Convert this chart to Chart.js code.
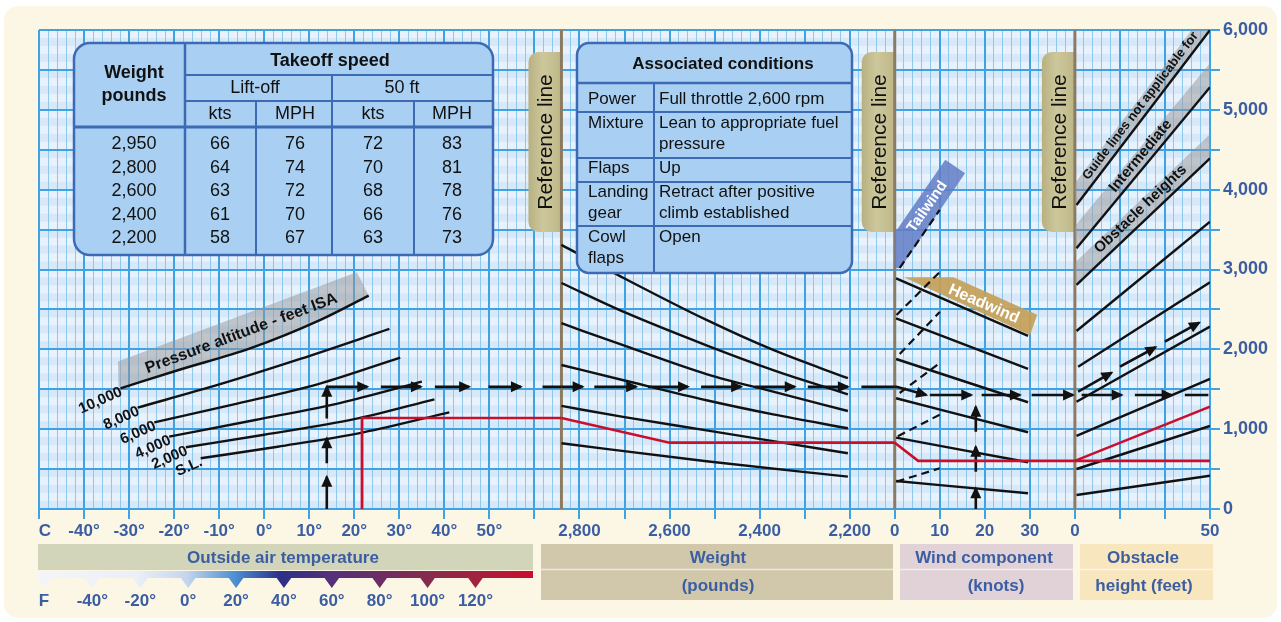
<!DOCTYPE html>
<html>
<head>
<meta charset="utf-8">
<script src="https://cdn.jsdelivr.net/npm/chart.js@4.4.1/dist/chart.umd.min.js"></script>
<style>
html, body { margin: 0; background: #fff; }
#wrap { position: relative; width: 1281px; height: 622px; }
</style>
</head>
<body>
<div id="wrap"><canvas id="c"></canvas></div>
<script>
// takeoff speed table
const speedWeights = [2950, 2800, 2600, 2400, 2200];
const liftOffKts = [66, 64, 63, 61, 58];
const liftOffMph = [76, 74, 72, 70, 67];
const fiftyFtKts = [72, 70, 68, 66, 63];
const fiftyFtMph = [83, 81, 78, 76, 73];

// associated conditions
const conditionNames = [['Power'], ['Mixture'], ['Flaps'], ['Landing', 'gear'], ['Cowl', 'flaps']];
const conditionValues = [['Full throttle 2,600 rpm'], ['Lean to appropriate fuel', 'pressure'], ['Up'], ['Retract after positive', 'climb established'], ['Open']];

// axis ticks
const tempTicks = [-40, -30, -20, -10, 0, 10, 20, 30, 40, 50];
const fahrenheitTicks = [-40, -20, 0, 20, 40, 60, 80, 100, 120];
const fahrenheitMarks = [-60, -40, -20, 0, 20, 40, 60, 80, 100, 120];
const weightTicks = [2800, 2600, 2400, 2200];
const windTicks = [0, 10, 20, 30];
const obstacleTicks = [0, 50];

// pressure altitude curves: [OAT C, distance ft]
const altitudeLabels = ['10,000', '8,000', '6,000', '4,000', '2,000', 'S.L.'];
const alt10000 = [[-31.9, 1512], [-19, 1741], [-3, 2015], [12.5, 2370], [23.2, 2673]];
const alt8000 = [[-28.1, 1270], [-10, 1560], [8, 1880], [27.8, 2255]];
const alt6000 = [[-24.4, 1086], [-6, 1320], [12, 1565], [30.2, 1896]];
const alt4000 = [[-21.1, 906], [-2, 1115], [17, 1330], [35, 1595]];
const alt2000 = [[-17.4, 773], [0, 930], [20, 1125], [37.8, 1374]];
const altSL = [[-14.1, 635], [3, 780], [22, 960], [41.1, 1211]];

// weight guide lines: [lbs, ft]
const weightLine1 = [[2840, 3308], [2715, 2932], [2518, 2368], [2370, 1992], [2204, 1638]];
const weightLine2 = [[2840, 2831], [2700, 2465], [2518, 2050], [2370, 1740], [2204, 1437]];
const weightLine3 = [[2840, 2327], [2700, 2045], [2518, 1690], [2370, 1470], [2204, 1228]];
const weightLine4 = [[2840, 1804], [2700, 1610], [2518, 1362], [2370, 1185], [2204, 1011]];
const weightLine5 = [[2840, 1291], [2700, 1150], [2518, 985], [2370, 850], [2204, 698]];
const weightLine6 = [[2840, 823], [2518, 598], [2204, 405]];

// wind guide lines: [knots, ft]
const headwind1 = [[0.3, 2890], [29.6, 2168]];
const headwind2 = [[0.3, 2389], [29.6, 1754]];
const headwind3 = [[0.3, 1879], [29.6, 1337]];
const headwind4 = [[0.3, 1387], [29.6, 961]];
const headwind5 = [[0.3, 894], [29.6, 585]];
const headwind6 = [[0.3, 351], [29.6, 197]];
const tailwind1 = [[1.1, 3020], [10, 3747]];
const tailwind2 = [[0.4, 2430], [10, 2969]];
const tailwind3 = [[1.1, 1942], [10, 2468]];
const tailwind4 = [[1.1, 1453], [10, 1829]];
const tailwind5 = [[0.7, 911], [10, 1182]];
const tailwind6 = [[0.4, 343], [10, 510]];

// obstacle guide lines: [ft obstacle, ft distance]
const obstacleA = [[0.6, 3808], [50, 6000]];
const obstacleB = [[0.6, 3266], [50, 5283]];
const obstacleC = [[0.6, 2806], [50, 4393]];
const obstacleD = [[0.6, 2230], [50, 3599]];
const obstacleE = [[1.2, 1783], [50, 2840]];
const obstacleF = [[0.6, 1344], [50, 2284]];
const obstacleG = [[0.6, 915], [50, 1629]];
const obstacleH = [[0.6, 501], [50, 1040]];
const obstacleI = [[0.6, 175], [50, 417]];
const obstacleNotes = ['Guide lines not applicable for', 'Intermediate', 'Obstacle heights'];

// worked example (black arrows); a third value of 1 marks an arrowhead
const pathTemp = [
  [[13.9, 0], [13.9, 405, 1]], [[13.9, 573], [13.9, 885, 1]], [[13.9, 1135], [13.9, 1530, 1]],
  [[13.9, 1530], [22.9, 1530, 1]], [[25.9, 1530], [34.8, 1530, 1]], [[37.9, 1530], [45.5, 1530, 1]],
  [[49.8, 1530], [57, 1530, 1]], [[61.8, 1530], [66, 1530]]
];
const pathWeight = [
  [[2840, 1530], [2793, 1530, 1]], [[2767, 1530], [2674, 1530, 1]], [[2648, 1530], [2559, 1530, 1]],
  [[2530, 1530], [2441, 1530, 1]], [[2411, 1530], [2322, 1530, 1]], [[2293, 1530], [2204, 1530, 1]],
  [[2174, 1530], [2100, 1530]]
];
const pathWind = [
  [[0, 1530], [0.4, 1530], [7, 1428, 1]], [[7.8, 1428], [17, 1428, 1]], [[19.3, 1428], [27.8, 1428, 1]],
  [[30.4, 1428], [39.6, 1428, 1]],
  [[18, 0], [18, 259, 1]], [[18, 467], [18, 781, 1]], [[18, 969], [18, 1282, 1]]
];
const pathObstacle = [
  [[2.5, 1428], [17.3, 1428, 1]], [[22.2, 1428], [35.8, 1428, 1]], [[40.7, 1428], [49.4, 1428]],
  [[1.2, 1470], [13.6, 1708, 1]], [[16.7, 1783], [29.9, 2026, 1]], [[33.3, 2096], [46, 2334, 1]]
];

// worked example (red)
const redTemp = [[21.7, 0], [21.7, 1140], [66, 1140]];
const redWeight = [[2840, 1140], [2600, 831], [2100, 831]];
const redWind = [[0, 831], [5.2, 603], [40, 603]];
const redObstacleFlat = [[0, 603], [50, 603]];
const redObstacleRise = [[0, 603], [50, 1282]];

// reference line positions in each panel's own units
const refWeight = 2840, refWind = 0, refObstacle = 0;

const FONT = '"Liberation Sans", Arial, Helvetica, sans-serif';
const C = {
  blueText: '#3B5EA2', grid: '#3FA2E2', minor: '#8FC8EE', plot: '#D7E8F8', stripe: '#E8F2FC',
  ink: '#111', red: '#C8102E', ref: '#8C7B62', table: '#A9D0F2', tableLine: '#3D6AB5', cream: '#FCF6E4'
};

function lineSet(axis, pts, o) {
  return Object.assign({
    xAxisID: axis, yAxisID: 'y', data: pts.map(p => ({x: p[0], y: p[1]})),
    borderColor: C.ink, borderWidth: 2.4, pointRadius: 0, fill: false,
    cubicInterpolationMode: 'monotone'
  }, o || {});
}

function pathSet(axis, lines) {
  const data = [], heads = [];
  lines.forEach(pl => {
    pl.forEach((p, i) => {
      data.push({x: p[0], y: p[1]});
      if (i === pl.length - 1 && p[2]) heads.push(data.length - 1);
    });
    data.push({x: pl[pl.length - 1][0], y: null});
  });
  return {xAxisID: axis, yAxisID: 'y', data, heads, borderColor: C.ink, borderWidth: 2.6,
    pointRadius: 0, spanGaps: false, fill: false};
}

const red = {borderColor: C.red, borderWidth: 2.6, cubicInterpolationMode: 'default'};
const dashed = {borderDash: [8, 5], borderWidth: 2.2};

const datasets = [
  lineSet('xT', redTemp, red), lineSet('xW', redWeight, red), lineSet('xWind', redWind, red),
  lineSet('xObs', redObstacleFlat, red), lineSet('xObs', redObstacleRise, red),
  pathSet('xT', pathTemp), pathSet('xW', pathWeight), pathSet('xWind', pathWind), pathSet('xObs', pathObstacle),
  lineSet('xT', alt10000, {id: 'alt10000'}), lineSet('xT', alt8000), lineSet('xT', alt6000),
  lineSet('xT', alt4000), lineSet('xT', alt2000), lineSet('xT', altSL),
  lineSet('xW', weightLine1), lineSet('xW', weightLine2), lineSet('xW', weightLine3),
  lineSet('xW', weightLine4), lineSet('xW', weightLine5), lineSet('xW', weightLine6),
  lineSet('xWind', headwind1, {id: 'head1'}), lineSet('xWind', headwind2), lineSet('xWind', headwind3),
  lineSet('xWind', headwind4), lineSet('xWind', headwind5), lineSet('xWind', headwind6),
  lineSet('xWind', tailwind1, Object.assign({id: 'tail1'}, dashed)), lineSet('xWind', tailwind2, dashed),
  lineSet('xWind', tailwind3, dashed), lineSet('xWind', tailwind4, dashed),
  lineSet('xWind', tailwind5, dashed), lineSet('xWind', tailwind6, dashed),
  lineSet('xObs', obstacleA, {id: 'obsA'}), lineSet('xObs', obstacleB, {id: 'obsB'}),
  lineSet('xObs', obstacleC, {id: 'obsC'}), lineSet('xObs', obstacleD), lineSet('xObs', obstacleE),
  lineSet('xObs', obstacleF), lineSet('xObs', obstacleG), lineSet('xObs', obstacleH), lineSet('xObs', obstacleI)
];
const altStart = datasets.findIndex(d => d.id === 'alt10000');

function metaPts(chart, id) {
  const i = chart.data.datasets.findIndex(d => d.id === id);
  return chart.getDatasetMeta(i).data;
}

function text(ctx, s, x, y, size, o) {
  o = o || {};
  ctx.save();
  ctx.font = (o.bold ? 'bold ' : '') + size + 'px ' + FONT;
  ctx.fillStyle = o.color || C.ink;
  ctx.textAlign = o.align || 'center';
  ctx.textBaseline = 'middle';
  ctx.translate(x, y);
  if (o.rot) ctx.rotate(o.rot);
  ctx.fillText(s, 0, 0);
  ctx.restore();
}

function unit(a, b) {
  const dx = b.x - a.x, dy = b.y - a.y, l = Math.hypot(dx, dy);
  return {x: dx / l, y: dy / l, len: l};
}

const backdrop = {
  id: 'backdrop',
  beforeDraw(chart) {
    const {ctx, chartArea: a, scales: {y}} = chart;
    ctx.save();
    ctx.fillStyle = '#fff';
    ctx.fillRect(0, 0, chart.width, chart.height);
    ctx.fillStyle = C.cream;
    ctx.beginPath();
    ctx.roundRect(4, 6, chart.width - 8, chart.height - 10, 14);
    ctx.fill();
    ctx.fillStyle = C.plot;
    ctx.fillRect(a.left, a.top, a.width, a.height);
    ctx.fillStyle = C.stripe;
    for (let v = 100; v < 6000; v += 200) {
      const y1 = y.getPixelForValue(v + 100), y2 = y.getPixelForValue(v);
      ctx.fillRect(a.left, y1, a.width, y2 - y1);
    }
    ctx.restore();
  },
  beforeDatasetsDraw(chart) {
    const {ctx, chartArea: a, scales: s} = chart;
    ctx.save();
    // reference lines and their tabs
    const refs = [s.xW.getPixelForValue(refWeight), s.xWind.getPixelForValue(refWind), s.xObs.getPixelForValue(refObstacle)];
    const tabTop = s.y.getPixelForValue(5725), tabBot = s.y.getPixelForValue(3470);
    refs.forEach(x => {
      const g = ctx.createLinearGradient(x - 33, 0, x, 0);
      g.addColorStop(0, '#B7B082'); g.addColorStop(0.45, '#CDC89C'); g.addColorStop(1, '#BDB687');
      ctx.fillStyle = g;
      ctx.beginPath();
      ctx.roundRect(x - 33, tabTop, 33, tabBot - tabTop, [10, 0, 0, 10]);
      ctx.fill();
      text(ctx, 'Reference line', x - 15, (tabTop + tabBot) / 2, 21, {rot: -Math.PI / 2});
      ctx.strokeStyle = C.ref; ctx.lineWidth = 3;
      ctx.beginPath(); ctx.moveTo(x, a.top); ctx.lineTo(x, a.bottom); ctx.stroke();
    });

    // pressure altitude band along the 10,000 ft curve
    const pts = chart.getDatasetMeta(altStart).data;
    const p0 = pts[0], p1 = pts[pts.length - 1], d = unit(p0, p1), n = {x: d.y, y: -d.x};
    ctx.fillStyle = 'rgba(150,150,152,0.5)';
    ctx.beginPath();
    ctx.moveTo(p0.x, p0.y);
    for (let i = 1; i < pts.length; i++) {
      const p = pts[i - 1], c = pts[i];
      if (p.cp2x !== undefined) ctx.bezierCurveTo(p.cp2x, p.cp2y, c.cp1x, c.cp1y, c.x, c.y);
      else ctx.lineTo(c.x, c.y);
    }
    ctx.lineTo(p1.x + n.x * 26 - d.x * 3, p1.y + n.y * 26 - d.y * 3);
    ctx.lineTo(p0.x + n.x * 26 + d.x * 7, p0.y + n.y * 26 + d.y * 7);
    ctx.lineTo(p0.x - 2, p0.y - 2);
    ctx.closePath();
    ctx.fill();

    // obstacle bands
    ctx.save();
    ctx.beginPath();
    ctx.rect(refs[2], a.top, a.right - refs[2], a.height);
    ctx.clip();
    ['obsA', 'obsB', 'obsC'].forEach(id => {
      const m = metaPts(chart, id), A = m[0], B = m[1], u = unit(A, B);
      const E = {x: B.x + u.x * 60, y: B.y + u.y * 60};
      ctx.fillStyle = 'rgba(150,150,152,0.5)';
      ctx.beginPath();
      ctx.moveTo(A.x - 4, A.y - u.y * 4 / u.x); ctx.lineTo(E.x, E.y);
      ctx.lineTo(E.x, E.y - 24); ctx.lineTo(A.x - 4, A.y - 24 - u.y * 4 / u.x);
      ctx.closePath(); ctx.fill();
    });
    ctx.restore();

    // tailwind band
    ctx.save();
    ctx.beginPath();
    ctx.rect(refs[1], a.top, a.right - refs[1], a.height);
    ctx.clip();
    const t = metaPts(chart, 'tail1'), S = t[0], tu = unit(t[0], t[1]), tn = {x: tu.y, y: -tu.x};
    const L = 115, w = 24;
    ctx.fillStyle = 'rgba(98,124,198,0.85)';
    ctx.beginPath();
    ctx.moveTo(S.x + 1, S.y);
    ctx.lineTo(S.x + tu.x * L, S.y + tu.y * L);
    ctx.lineTo(S.x + tu.x * L + tn.x * w, S.y + tu.y * L + tn.y * w);
    ctx.lineTo(S.x + tn.x * w, S.y + tn.y * w);
    ctx.lineTo(refs[1] - 2, S.y);
    ctx.closePath(); ctx.fill();
    ctx.restore();

    // headwind band
    const h = metaPts(chart, 'head1'), HA = h[0], HB = h[1], hd = unit(HA, HB);
    const up = {x: hd.y, y: -hd.x};
    const Q = {x: HB.x + up.x * 23, y: HB.y + up.y * 23};
    const tt = (Q.y - HA.y) / hd.y;
    ctx.fillStyle = 'rgba(196,160,88,0.92)';
    ctx.beginPath();
    ctx.moveTo(HA.x + 8, HA.y - 1);
    ctx.lineTo(Q.x - hd.x * tt, HA.y - 1);
    ctx.lineTo(Q.x, Q.y);
    ctx.lineTo(HB.x + 2, HB.y - 1);
    ctx.closePath(); ctx.fill();
    ctx.restore();
  },
  afterDatasetsDraw(chart) {
    const {ctx, scales: s} = chart;
    ctx.save();
    // arrowheads
    chart.data.datasets.forEach((ds, i) => {
      if (!ds.heads) return;
      const m = chart.getDatasetMeta(i).data;
      ds.heads.forEach(k => {
        const p = m[k], q = m[k - 1], ang = Math.atan2(p.y - q.y, p.x - q.x);
        ctx.save();
        ctx.translate(p.x, p.y); ctx.rotate(ang);
        ctx.fillStyle = C.ink;
        ctx.beginPath(); ctx.moveTo(2, 0); ctx.lineTo(-10, -5.5); ctx.lineTo(-10, 5.5); ctx.closePath(); ctx.fill();
        ctx.restore();
      });
    });

    // altitude labels
    altitudeLabels.forEach((lab, i) => {
      const p = chart.getDatasetMeta(altStart + i).data[0];
      text(ctx, lab, p.x + 1, p.y + 3, 15, {bold: true, align: 'right', rot: -24 * Math.PI / 180});
    });
    const pts = chart.getDatasetMeta(altStart).data;
    const p0 = pts[0], p1 = pts[pts.length - 1], d = unit(p0, p1), n = {x: d.y, y: -d.x};
    text(ctx, 'Pressure altitude - feet ISA', (p0.x + p1.x) / 2 + n.x * 9, (p0.y + p1.y) / 2 + n.y * 9, 16,
      {bold: true, rot: Math.atan2(d.y, d.x)});

    // obstacle band notes
    ['obsA', 'obsB', 'obsC'].forEach((id, i) => {
      const m = metaPts(chart, id), u = unit(m[0], m[1]);
      const f = 0.48, x = m[0].x + (m[1].x - m[0].x) * f, y = m[0].y + (m[1].y - m[0].y) * f - 15;
      text(ctx, obstacleNotes[i], x, y, i === 0 ? 13 : 15, {bold: true, rot: Math.atan2(u.y, u.x)});
    });

    // wind labels
    const t = metaPts(chart, 'tail1'), tu = unit(t[0], t[1]), tn = {x: tu.y, y: -tu.x};
    text(ctx, 'Tailwind', t[0].x + tu.x * 66 + tn.x * 12, t[0].y + tu.y * 66 + tn.y * 12, 15,
      {bold: true, color: '#fff', rot: Math.atan2(tu.y, tu.x)});
    const h = metaPts(chart, 'head1'), hd = unit(h[0], h[1]), up = {x: hd.y, y: -hd.x};
    text(ctx, 'Headwind', h[0].x + hd.x * hd.len * 0.63 + up.x * 11.5, h[0].y + hd.y * hd.len * 0.63 + up.y * 11.5, 16,
      {bold: true, color: '#fff', rot: Math.atan2(hd.y, hd.x)});

    // takeoff speed table
    ctx.fillStyle = C.table; ctx.strokeStyle = C.tableLine; ctx.lineWidth = 2.5;
    ctx.beginPath(); ctx.roundRect(74, 43, 419, 212, 16); ctx.fill(); ctx.stroke();
    const seg = (x1, y1, x2, y2, lw) => {
      ctx.lineWidth = lw || 2; ctx.beginPath(); ctx.moveTo(x1, y1); ctx.lineTo(x2, y2); ctx.stroke();
    };
    seg(185, 43, 185, 255, 2.5); seg(185, 75, 493, 75); seg(185, 101, 493, 101);
    seg(74, 127, 493, 127, 3); seg(332, 75, 332, 255); seg(256, 101, 256, 255); seg(414, 101, 414, 255);
    text(ctx, 'Weight', 134, 73, 18, {bold: true}); text(ctx, 'pounds', 134, 96, 18, {bold: true});
    text(ctx, 'Takeoff speed', 330, 61, 18, {bold: true});
    text(ctx, 'Lift-off', 255, 88, 18); text(ctx, '50 ft', 402, 88, 18);
    [['kts', 220], ['MPH', 295], ['kts', 373], ['MPH', 452]].forEach(([s2, x]) => text(ctx, s2, x, 114, 18));
    speedWeights.forEach((wv, i) => {
      const y = 144 + i * 23.6;
      text(ctx, wv.toLocaleString('en-US'), 134, y, 18);
      text(ctx, String(liftOffKts[i]), 220, y, 18); text(ctx, String(liftOffMph[i]), 295, y, 18);
      text(ctx, String(fiftyFtKts[i]), 373, y, 18); text(ctx, String(fiftyFtMph[i]), 452, y, 18);
    });

    // associated conditions table
    ctx.fillStyle = C.table; ctx.strokeStyle = C.tableLine; ctx.lineWidth = 2.5;
    ctx.beginPath(); ctx.roundRect(577, 43, 275, 230, 12); ctx.fill(); ctx.stroke();
    seg(577, 83, 852, 83, 2.5); seg(654, 83, 654, 273);
    [112, 158, 182, 226].forEach(y => seg(577, y, 852, y));
    text(ctx, 'Associated conditions', 723, 64, 17, {bold: true});
    const rowY = [99, 123, 168, 192, 237];
    conditionNames.forEach((lines, i) => {
      lines.forEach((l, j) => text(ctx, l, 588, rowY[i] + j * 21, 17, {align: 'left'}));
      conditionValues[i].forEach((l, j) => text(ctx, l, 659, rowY[i] + j * 21, 17, {align: 'left'}));
    });

    // bottom axis labels
    const lab = {bold: true, color: C.blueText};
    text(ctx, 'C', 45, 531, 17, lab);
    tempTicks.forEach(v => text(ctx, v + '\u00b0', s.xT.getPixelForValue(v), 531, 17, lab));
    weightTicks.forEach(v => text(ctx, v.toLocaleString('en-US'), s.xW.getPixelForValue(v), 531, 17, lab));
    windTicks.forEach(v => text(ctx, String(v), s.xWind.getPixelForValue(v), 531, 17, lab));
    obstacleTicks.forEach(v => text(ctx, String(v), s.xObs.getPixelForValue(v), 531, 17, lab));

    // panel title boxes
    ctx.fillStyle = '#D2D5BA'; ctx.fillRect(38, 544, 495, 26);
    ctx.fillStyle = '#D1C7AB'; ctx.fillRect(541, 544, 352, 56);
    ctx.fillStyle = '#E1D2D8'; ctx.fillRect(900, 544, 173, 56);
    ctx.fillStyle = '#F8E6BF'; ctx.fillRect(1080, 544, 133, 56);
    ctx.strokeStyle = 'rgba(255,255,255,0.6)'; seg(541, 569.5, 893, 569.5, 1.5);
    seg(900, 569.5, 1073, 569.5, 1.5); seg(1080, 569.5, 1213, 569.5, 1.5);
    text(ctx, 'Outside air temperature', 283, 558, 17, lab);
    text(ctx, 'Weight', 718, 558, 17, lab); text(ctx, '(pounds)', 718, 586, 17, lab);
    text(ctx, 'Wind component', 984, 558, 17, lab); text(ctx, '(knots)', 996, 586, 17, lab);
    text(ctx, 'Obstacle', 1143, 558, 17, lab); text(ctx, 'height (feet)', 1144, 586, 17, lab);

    // fahrenheit colour bar
    const g = ctx.createLinearGradient(38, 0, 533, 0);
    [[0, '#F3F5F9'], [0.2, '#EBEFF6'], [0.3, '#C5D5EE'], [0.4, '#4B8DD1'], [0.49, '#2C3088'], [0.59, '#54307A'],
     [0.69, '#6C2E64'], [0.79, '#872B4D'], [0.89, '#A2223F'], [1, '#CF0B2B']].forEach(([o, c]) => g.addColorStop(o, c));
    ctx.fillStyle = g;
    ctx.beginPath();
    ctx.rect(38, 571, 495, 7);
    fahrenheitMarks.forEach(f => {
      const x = s.xF.getPixelForValue(f);
      ctx.moveTo(x - 8, 577); ctx.lineTo(x + 8, 577); ctx.lineTo(x, 588); ctx.closePath();
    });
    ctx.fill();
    text(ctx, 'F', 44, 601, 17, lab);
    fahrenheitTicks.forEach(f => text(ctx, f + '\u00b0', s.xF.getPixelForValue(f), 601, 17, lab));
    ctx.restore();
  }
};

new Chart(document.getElementById('c'), {
  type: 'line',
  data: {datasets},
  options: {
    responsive: true, maintainAspectRatio: false, animation: false, devicePixelRatio: 1, events: [],
    layout: {padding: {left: 39, top: 30, right: 0, bottom: 0}},
    plugins: {legend: {display: false}, tooltip: {enabled: false}},
    scales: {
      x: {
        type: 'linear', min: 0, max: 130, position: 'bottom',
        ticks: {stepSize: 1, autoSkip: false, display: false},
        grid: {
          color: c => c.tick && c.tick.value % 5 === 0 ? C.grid : C.minor,
          lineWidth: c => c.tick && c.tick.value % 5 === 0 ? 2 : 1,
          tickColor: c => c.tick && c.tick.value % 5 === 0 ? C.grid : 'rgba(0,0,0,0)',
          tickLength: 10
        },
        border: {display: false},
        afterFit: sc => { sc.height = 113; }
      },
      xT: {type: 'linear', display: false, min: -50, max: 210},
      xW: {type: 'linear', display: false, min: 1400, max: 4000, reverse: true},
      xWind: {type: 'linear', display: false, min: -190, max: 70},
      xObs: {type: 'linear', display: false, min: -383.333, max: 50},
      xF: {type: 'linear', display: false, min: -62.3, max: 426.8},
      y: {
        type: 'linear', position: 'right', min: 0, max: 6000,
        ticks: {
          stepSize: 500, autoSkip: false, padding: 3, color: C.blueText,
          font: {family: FONT, size: 18, weight: 'bold'},
          callback: v => v % 1000 === 0 ? v.toLocaleString('en-US') : ''
        },
        grid: {color: C.grid, lineWidth: 2, tickColor: C.grid, tickLength: 10},
        border: {display: false},
        afterFit: sc => { sc.width = 71; }
      }
    }
  },
  plugins: [backdrop]
});
</script>
</body>
</html>
